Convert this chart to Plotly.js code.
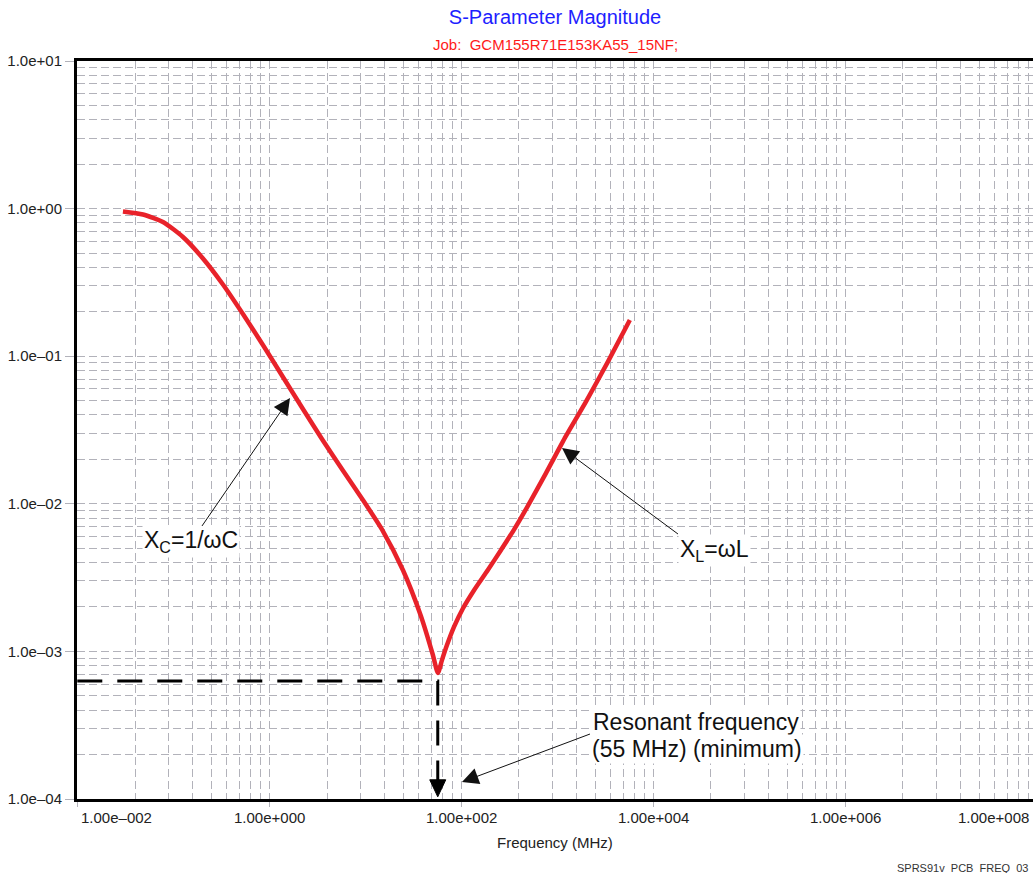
<!DOCTYPE html>
<html>
<head>
<meta charset="utf-8">
<script src="https://cdn.plot.ly/plotly-3.0.1.min.js"></script>
<style>html,body{margin:0;padding:0;background:#fff;}#chart{width:1033px;height:873px;}</style>
</head>
<body>
<div id="chart"></div>
<script>
// ---- data ----
var freqMHz = [0.0299, 0.04835, 0.0781, 0.1262, 0.2039, 0.3294, 0.5321, 0.8597, 1.389, 2.244, 3.625, 5.857, 9.462, 15.29, 24.70, 38.04, 50.72, 57.19,
               62.95, 70.96, 83.95, 104.2, 135.6, 189.7, 259.1, 354.0, 495.3, 762.6, 1232, 1991, 3374, 5719];
var sMag    = [0.9558, 0.9122, 0.8113, 0.6421, 0.4591, 0.3060, 0.1931, 0.1191, 0.07229, 0.04388, 0.02685, 0.01681, 0.01061, 0.00654, 0.003559, 0.001737, 0.0009454, 0.000714,
               0.000870, 0.001099, 0.001459, 0.001953, 0.002588, 0.003559, 0.004852, 0.006661, 0.00968, 0.01608, 0.02870, 0.04906, 0.09155, 0.1759];
var resonanceMHz = 57;
var resonanceLevel = 0.00063;
var xTickVals = [0.01, 1, 100, 1e4, 1e6, 1e8];
var xTickText = ['1.00e\u2013002', '1.00e+000', '1.00e+002', '1.00e+004', '1.00e+006', '1.00e+008'];
var yTickVals = [1e-4, 1e-3, 1e-2, 1e-1, 1, 10];
var yTickText = ['1.0e\u201304', '1.0e\u201303', '1.0e\u201302', '1.0e\u201301', '1.0e+00', '1.0e+01'];

// ---- grid positions (the chart's own grid scheme) ----
var xMinor = [];
[-2, 0, 2, 4, 6].forEach(function (p) {
  for (var k = 2; k <= 9; k++) xMinor.push(Math.pow(10, p) * k * k);
});
var yMinor = [];
[-4, -3, -2, -1, 0].forEach(function (p) {
  for (var k = 2; k <= 9; k++) yMinor.push(Math.pow(10, p) * k);
});

var FONT = 'Liberation Sans, Arial, sans-serif';
var GRID = '#b2b2ba';
var GDASH = '8px,4px';
var XRANGE = [-2.003, 7.958];

var traces = [
  {
    x: freqMHz, y: sMag, type: 'scatter', mode: 'lines',
    line: {color: '#e8222a', width: 4.5, shape: 'spline', smoothing: 0.6},
    hoverinfo: 'skip'
  },
  {
    x: [xTickVals[0], resonanceMHz, resonanceMHz],
    y: [resonanceLevel, resonanceLevel, yTickVals[0]],
    type: 'scatter', mode: 'lines',
    line: {color: '#000', width: 3, dash: '25px,15px'},
    hoverinfo: 'skip'
  }
];

var annotations = [];
// x tick labels
for (var i = 0; i < xTickVals.length; i++) {
  var a = {
    text: xTickText[i], showarrow: false, yref: 'paper', y: -0.0257, yanchor: 'middle',
    font: {family: FONT, size: 15, color: '#222'}
  };
  if (i === 0) { a.xref = 'x'; a.x = Math.log10(xTickVals[i]); a.xanchor = 'left'; a.xshift = 2; }
  else if (i === xTickVals.length - 1) { a.xref = 'paper'; a.x = 1; a.xanchor = 'right'; a.xshift = -2; }
  else { a.xref = 'x'; a.x = Math.log10(xTickVals[i]); a.xanchor = 'center'; }
  annotations.push(a);
}
// subtitle
annotations.push({text: 'Job:  GCM155R71E153KA55_15NF;', showarrow: false, xref: 'paper', yref: 'paper',
  x: 0.5, y: 1.0230, yanchor: 'middle', font: {family: FONT, size: 15, color: '#ff1a1a'}});
// x-axis title
annotations.push({text: 'Frequency (MHz)', showarrow: false, xref: 'paper', yref: 'paper',
  x: 0.5, y: -0.0596, yanchor: 'middle', font: {family: FONT, size: 15, color: '#222'}});
// footer
annotations.push({text: 'SPRS91v_PCB_FREQ_03', showarrow: false, xref: 'paper', yref: 'paper',
  x: 1, xanchor: 'right', xshift: -3, y: -0.0935, yanchor: 'middle', font: {family: FONT, size: 11, color: '#333'}});

var ARROW = {showarrow: true, arrowhead: 2, arrowsize: 3.3, arrowwidth: 1, arrowcolor: '#111'};
function withArrow(o) { for (var k in ARROW) o[k] = ARROW[k]; return o; }

// X_C label with arrow (tip on the curve)
annotations.push(withArrow({text: 'X<sub>C</sub>=1/\u03c9C', xref: 'paper', yref: 'paper',
  x: 0.2228, y: 0.5434, ax: -99, ay: 144, bgcolor: '#fff',
  font: {family: FONT, size: 23, color: '#111'}}));
// X_L label with arrow
annotations.push(withArrow({text: 'X<sub>L</sub>=\u03c9L', xref: 'paper', yref: 'paper',
  x: 0.5073, y: 0.4756, ax: 116, ay: 86, xanchor: 'left', yanchor: 'top', bgcolor: '#fff',
  font: {family: FONT, size: 23, color: '#111'}}));
// resonance text
annotations.push({text: 'Resonant frequency', showarrow: false, xref: 'paper', yref: 'paper',
  x: 0.5377, y: 0.1043, xanchor: 'left', yanchor: 'middle', bgcolor: '#fff',
  font: {family: FONT, size: 23, color: '#111'}});
annotations.push(withArrow({text: '(55 MHz) (minimum)', xref: 'paper', yref: 'paper',
  x: 0.4027, y: 0.0230, ax: 128, ay: -48, xanchor: 'left', yanchor: 'top', bgcolor: '#fff',
  font: {family: FONT, size: 23, color: '#111'}}));

// arrowhead at the end of the dashed resonance marker
var rx = (Math.log10(resonanceMHz) - XRANGE[0]) / (XRANGE[1] - XRANGE[0]);
var hw = 8 / 956, hh = 17 / 738, tip = 0.003;
var shapes = [{
  type: 'path', xref: 'paper', yref: 'paper', layer: 'above',
  path: 'M' + (rx - hw) + ',' + (tip + hh) + ' L' + (rx + hw) + ',' + (tip + hh) + ' L' + rx + ',' + tip + ' Z',
  fillcolor: '#000', line: {color: '#000', width: 1}
}];

var layout = {
  width: 1033, height: 873,
  margin: {l: 77, r: 0, t: 61, b: 74},
  paper_bgcolor: '#fff', plot_bgcolor: '#fff',
  showlegend: false,
  title: {text: 'S-Parameter Magnitude', font: {family: FONT, size: 20, color: '#1e1eff'},
    x: 0.5, xref: 'paper', xanchor: 'center', y: 1 - 17 / 873, yref: 'container', yanchor: 'middle'},
  xaxis: {
    type: 'log', range: XRANGE,
    tickmode: 'array', tickvals: xTickVals, showticklabels: false,
    ticks: 'outside', ticklen: 5, tickcolor: GRID, tickwidth: 1,
    showgrid: true, gridcolor: GRID, gridwidth: 1, griddash: GDASH,
    minor: {tickmode: 'array', tickvals: xMinor, showgrid: true, gridcolor: GRID, gridwidth: 1, griddash: GDASH, ticks: ''},
    showline: true, linecolor: '#000', linewidth: 3, mirror: true, zeroline: false
  },
  yaxis: {
    type: 'log', range: [-4, 1],
    tickmode: 'array', tickvals: yTickVals, ticktext: yTickText,
    tickfont: {family: FONT, size: 15, color: '#222'},
    ticks: 'outside', ticklen: 9, tickcolor: GRID, tickwidth: 1,
    showgrid: true, gridcolor: GRID, gridwidth: 1, griddash: GDASH,
    minor: {tickmode: 'array', tickvals: yMinor, showgrid: true, gridcolor: GRID, gridwidth: 1, griddash: GDASH, ticks: ''},
    showline: true, linecolor: '#000', linewidth: 3, mirror: false, zeroline: false
  },
  shapes: shapes,
  annotations: annotations
};

Plotly.newPlot('chart', traces, layout, {staticPlot: true, displayModeBar: false});
</script>
</body>
</html>
